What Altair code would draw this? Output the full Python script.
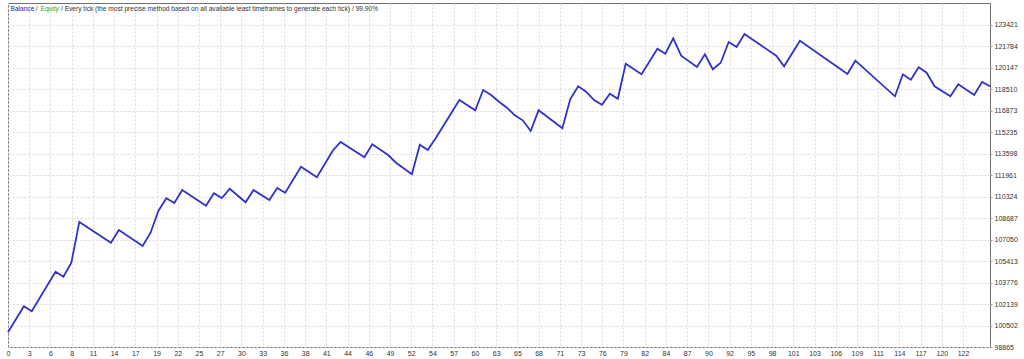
import altair as alt
import pandas as pd

# Trade index of each vertex of the balance line and its balance
trade = [0, 2, 3, 6, 7, 8, 9, 13, 14, 17, 18, 19, 20, 21, 22, 25, 26, 27, 28, 30,
         31, 33, 34, 35, 37, 39, 41, 42, 45, 46, 48, 49, 51, 52, 53, 54, 57, 59, 60,
         61, 62, 63, 64, 65, 66, 67, 70, 71, 72, 73, 74, 75, 76, 77, 78, 80, 82, 83,
         84, 85, 87, 88, 89, 90, 91, 92, 93, 97, 98, 100, 106, 107, 112, 113, 114,
         115, 116, 117, 119, 120, 122, 123, 124]
balance = [99986, 101968, 101587, 104607, 104225, 105293, 108396, 106818, 107786,
           106566, 107580, 109258, 110203, 109845, 110836, 109639, 110585, 110226,
           110935, 109898, 110836, 110074, 110989, 110630, 112613, 111805, 113833,
           114496, 113330, 114321, 113505, 112918, 112033, 114290, 113886, 114778,
           117699, 116913, 118461, 118080, 117569, 117112, 116532, 116151, 115335,
           116913, 115541, 117775, 118743, 118332, 117699, 117340, 118179, 117798,
           120467, 119658, 121610, 121229, 122403, 121077, 120215, 121183, 120040,
           120543, 122121, 121740, 122731, 121077, 120268, 122220, 119681, 120695,
           117981, 119658, 119247, 120192, 119780, 118743, 117981, 118896, 118080,
           119071, 118743]

x_labels = ["0", "3", "6", "8", "11", "14", "17", "19", "22", "25", "27", "30", "33",
            "36", "38", "41", "44", "46", "49", "52", "54", "57", "60", "63", "65",
            "68", "71", "73", "76", "79", "82", "84", "87", "90", "92", "95", "98",
            "101", "103", "106", "109", "111", "114", "117", "120", "122"]
y_labels = ["98865", "100502", "102139", "103776", "105413", "107050", "108687",
            "110324", "111961", "113598", "115235", "116873", "118510", "120147",
            "121784", "123421"]

X_STEP = 2.68
Y_BASE = 98865
Y_STEP = 1637.07
X_MAX = 124
Y_TOP = 125095

df = pd.DataFrame({"trade": trade, "balance": balance})

x_vals = [round(i * X_STEP, 3) for i in range(len(x_labels))]
y_vals = [round(Y_BASE + k * Y_STEP, 2) for k in range(len(y_labels))]

x_expr = "[" + ",".join("'%s'" % s for s in x_labels) + "][round(datum.value/%s)]" % X_STEP
y_expr = "[" + ",".join("'%s'" % s for s in y_labels) + "][round((datum.value-%s)/%s)]" % (Y_BASE, Y_STEP)

FONT = "Liberation Sans"

line = alt.Chart(df).mark_line(color="#3232c8", strokeWidth=1.8).encode(
    x=alt.X("trade:Q",
            scale=alt.Scale(domain=[0, X_MAX], nice=False, zero=False),
            axis=alt.Axis(values=x_vals, labelExpr=x_expr, title=None,
                          grid=True, gridColor="#dadada", gridDash=[2, 2],
                          ticks=False, domain=False, labelFontSize=7,
                          labelFont=FONT, labelColor="#333333", labelPadding=2,
                          labelFlush=False, labelOverlap=False)),
    y=alt.Y("balance:Q",
            scale=alt.Scale(domain=[Y_BASE, Y_TOP], nice=False, zero=False),
            axis=alt.Axis(orient="right", values=y_vals, labelExpr=y_expr,
                          title=None, grid=True, gridColor="#dadada",
                          gridDash=[2, 2], ticks=True, tickSize=2,
                          tickColor="#999999", domain=False, labelFontSize=7,
                          labelFont=FONT, labelColor="#333333", labelPadding=2,
                          labelFlush=False, labelOverlap=False)),
)


def txt(s, x, color):
    return alt.Chart(pd.DataFrame({"t": [s]})).mark_text(
        align="left", baseline="middle", font=FONT, fontSize=6.6, color=color
    ).encode(text="t:N", x=alt.value(x), y=alt.value(5.5))


title = (txt("Balance", 2.5, "#2020c0")
         + txt("/", 27.8, "#333333")
         + txt("Equity", 32.5, "#20b020")
         + txt("/ Every tick (the most precise method based on all available least timeframes to generate each tick) / 99.90%", 53, "#333333"))

chart = alt.layer(line, title).properties(
    width=982, height=344,
    autosize=alt.AutoSizeParams(type="none"),
    padding={"left": 8, "top": 3, "right": 34, "bottom": 12},
    background="white",
).configure_view(stroke="#707070", strokeWidth=1)

chart.save("out.html", embed_options={"renderer": "svg", "actions": False})
